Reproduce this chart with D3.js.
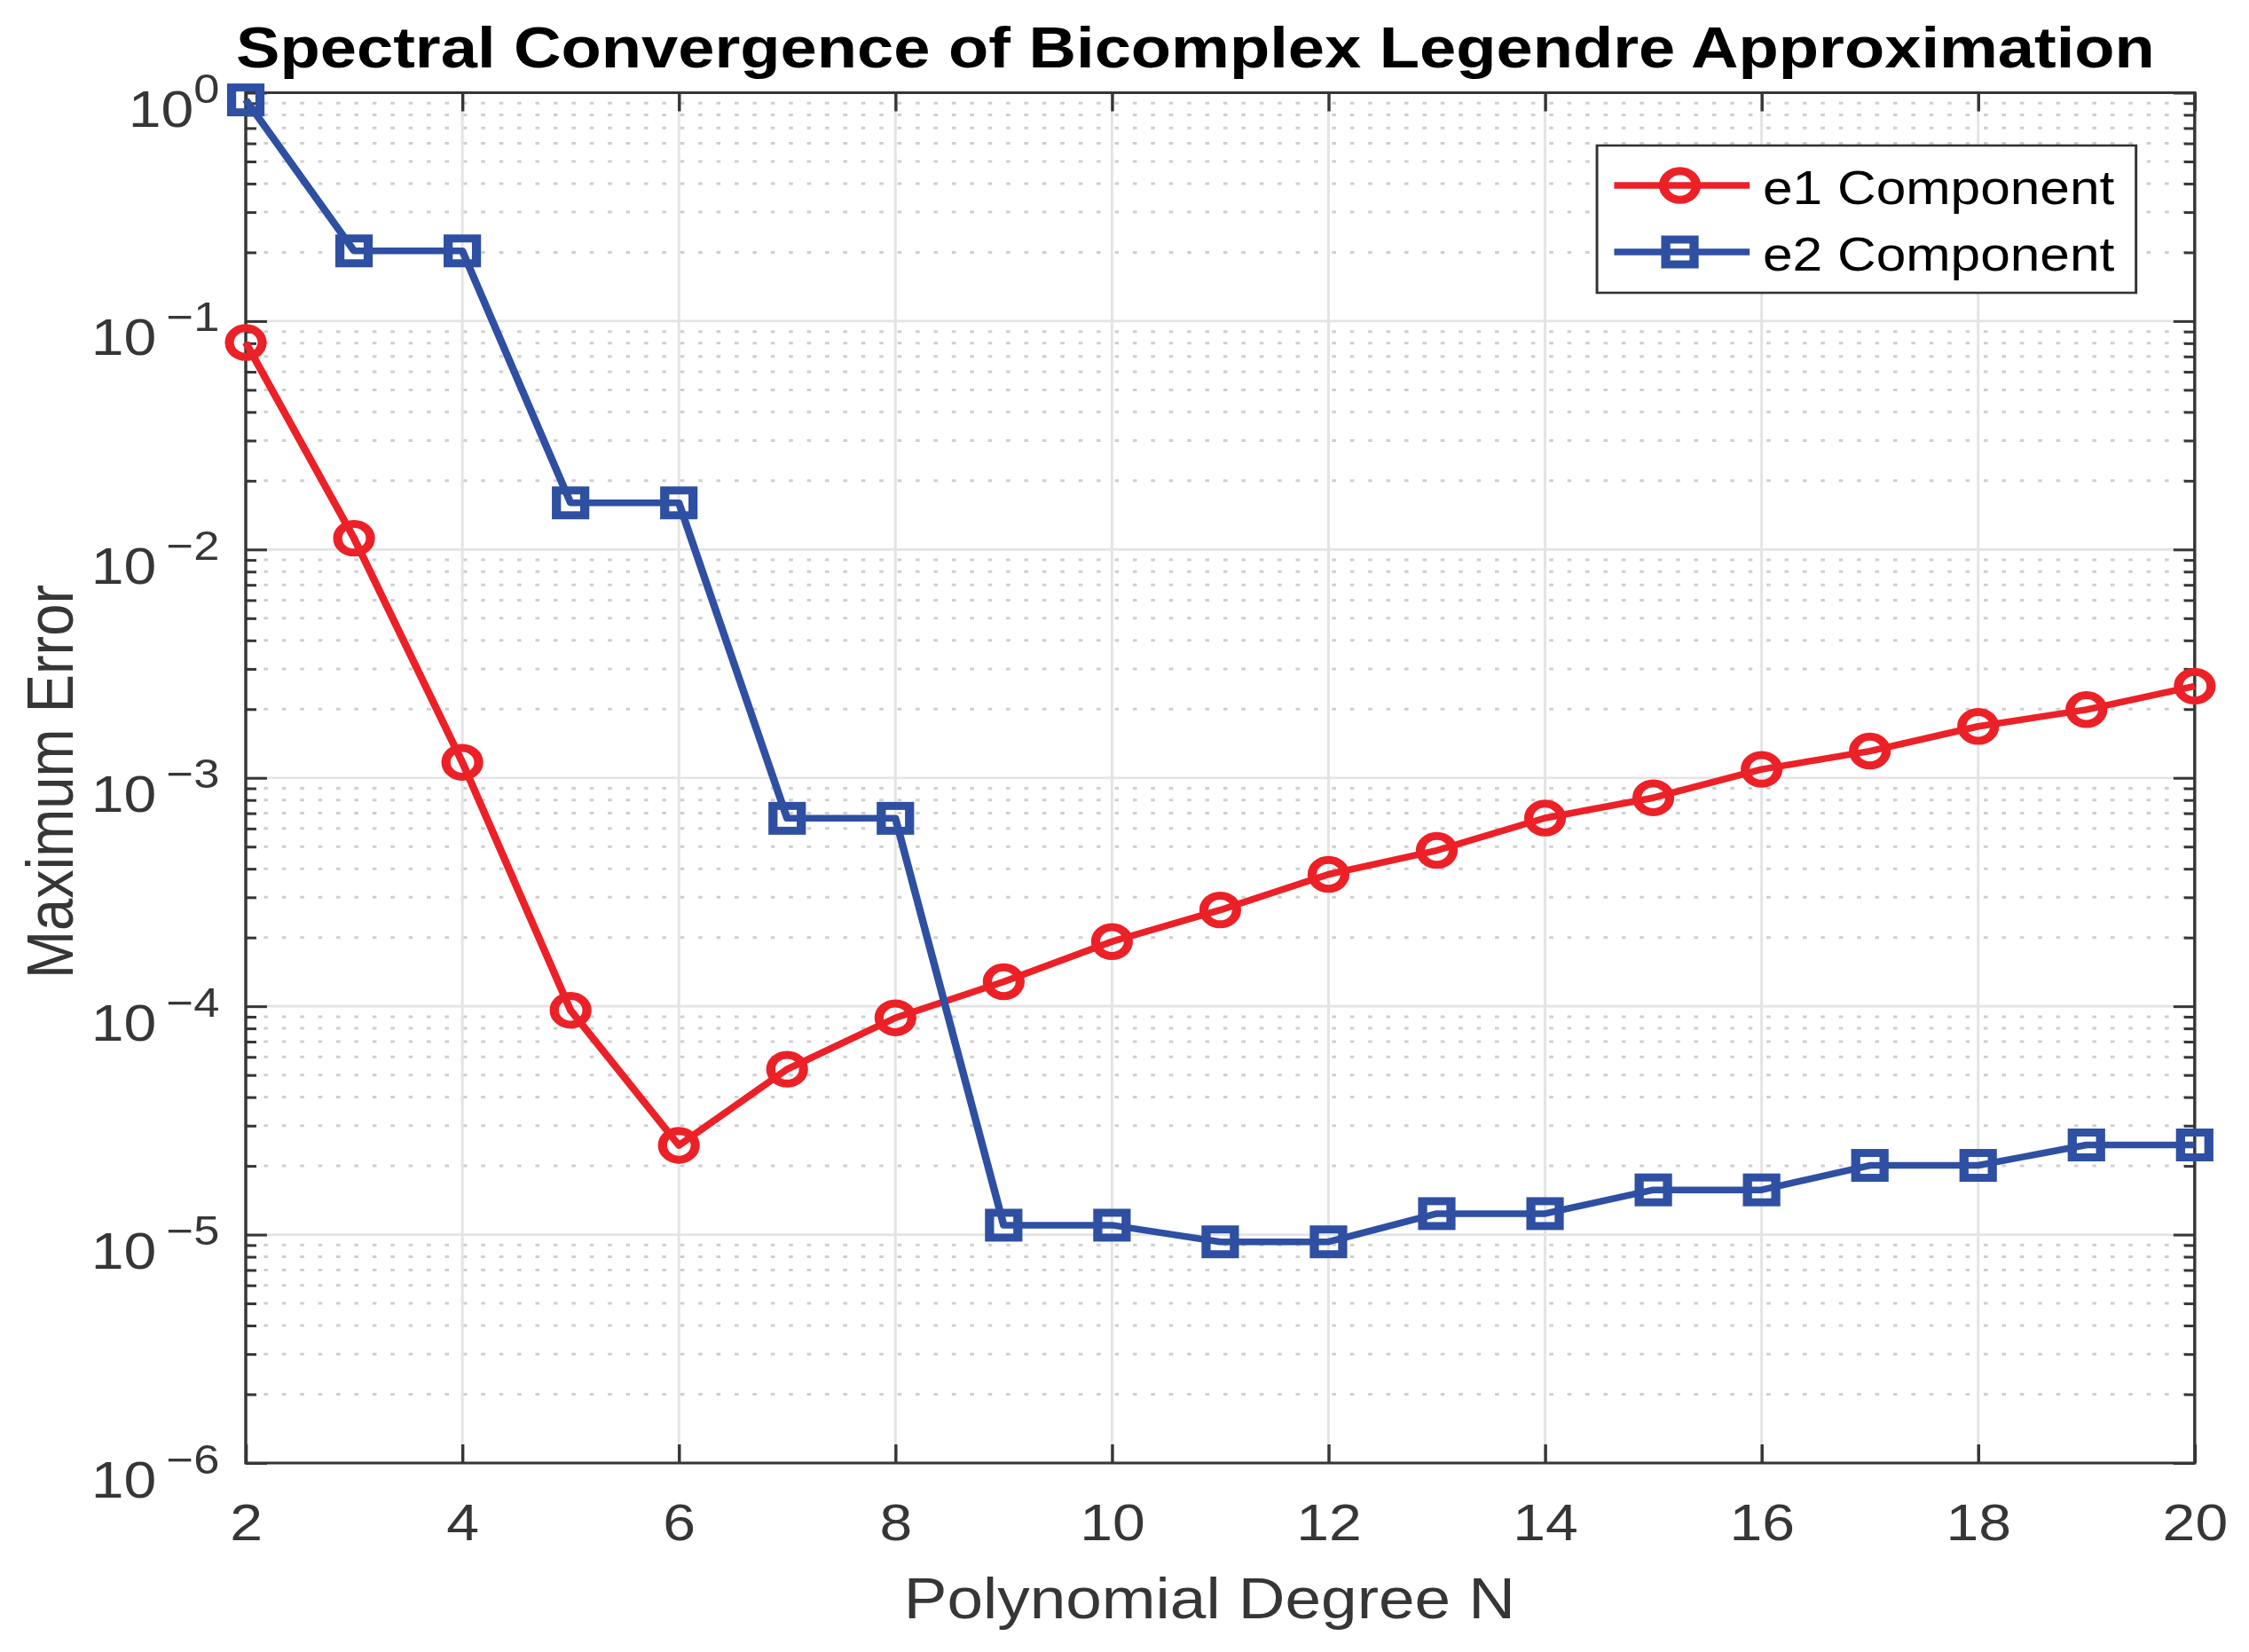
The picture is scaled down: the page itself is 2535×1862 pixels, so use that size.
<!DOCTYPE html>
<html>
<head>
<meta charset="utf-8">
<script src="https://cdn.jsdelivr.net/npm/d3@7/dist/d3.min.js"></script>
<style>
  html, body { margin: 0; padding: 0; background: #fff; }
  svg { display: block; }
  text { font-family: "Liberation Sans", Arial, Helvetica, sans-serif; }
</style>
</head>
<body>
<svg id="chart"></svg>
<script>
// data
var degrees = [2, 3, 4, 5, 6, 7, 8, 9, 10, 11, 12, 13, 14, 15, 16, 17, 18, 19, 20];
var e1Error = [0.0806, 0.0112, 1.17e-3, 9.6e-5, 2.46e-5, 5.3e-5, 8.9e-5, 1.28e-4, 1.92e-4,
               2.64e-4, 3.78e-4, 4.81e-4, 6.67e-4, 8.18e-4, 1.09e-3, 1.31e-3, 1.68e-3, 1.99e-3, 2.52e-3];
var e2Error = [0.93, 0.203, 0.203, 0.016, 0.016, 6.65e-4, 6.65e-4, 1.10e-5, 1.10e-5,
               9.3e-6, 9.3e-6, 1.236e-5, 1.236e-5, 1.57e-5, 1.57e-5, 2.01e-5, 2.01e-5, 2.47e-5, 2.47e-5];
var xTicks = [2, 4, 6, 8, 10, 12, 14, 16, 18, 20];
var yExponents = [0, -1, -2, -3, -4, -5, -6];
var minorSteps = [2, 3, 4, 5, 6, 7, 8, 9];
var seriesNames = ["e1 Component", "e2 Component"];

var chartTitle = "Spectral Convergence of Bicomplex Legendre Approximation";
var xTitle = "Polynomial Degree N";
var yTitle = "Maximum Error";

// the original figure is stretched sideways, so draw in a narrower box and stretch it
var stretch = 1.14;
var svgWidth = 2535;
var svgHeight = 1862;
var viewW = svgWidth / stretch;

var svg = d3.select("#chart")
            .attr("width", svgWidth)
            .attr("height", svgHeight)
            .attr("viewBox", "0 0 " + viewW + " " + svgHeight)
            .attr("preserveAspectRatio", "none");

// plot box (window.top is reserved, so use other names)
var plotL = 243, plotR = 2170, plotT = 104.5, plotB = 1649;
var axisColor = "#363636";
var red = "#ec2127", blue = "#2e4fa2";

var x = d3.scaleLinear().domain([2, 20]).range([plotL, plotR]);
var y = d3.scaleLog().domain([1e-6, 1]).range([plotB, plotT]);

var majorY = yExponents.map(function(e){ return Math.pow(10, e); });
var minorY = [];
for (var k = -6; k < 0; k++) {
  minorSteps.forEach(function(m){ minorY.push(m * Math.pow(10, k)); });
}

//grid
var grid = svg.append("g");
grid.selectAll(".minor").data(minorY).enter().append("line")
    .attr("x1", plotL).attr("x2", plotR)
    .attr("y1", function(d){ return y(d); })
    .attr("y2", function(d){ return y(d); })
    .attr("stroke", "#cfcfcf").attr("stroke-width", 3)
    .attr("stroke-dasharray", "4 13.9");
grid.selectAll(".hmaj").data(majorY).enter().append("line")
    .attr("x1", plotL).attr("x2", plotR)
    .attr("y1", function(d){ return y(d); })
    .attr("y2", function(d){ return y(d); })
    .attr("stroke", "#e4e4e4").attr("stroke-width", 2.6);
grid.selectAll(".vmaj").data(xTicks).enter().append("line")
    .attr("x1", function(d){ return x(d); })
    .attr("x2", function(d){ return x(d); })
    .attr("y1", plotT).attr("y2", plotB)
    .attr("stroke", "#e4e4e4").attr("stroke-width", 2.6);

//axes, ticks pointing inward
function styleAxis(g) {
  g.select(".domain").remove();
  g.selectAll(".tick line").attr("stroke", axisColor).attr("stroke-width", 3);
  g.selectAll(".tick text").attr("fill", axisColor);
}

var gBottom = svg.append("g").attr("transform", "translate(0," + plotB + ")")
   .call(d3.axisBottom(x).tickValues(xTicks).tickSize(-21).tickSizeOuter(0).tickFormat(d3.format("d")))
   .call(styleAxis);
gBottom.selectAll(".tick text")
   .attr("y", 87).attr("dy", null)
   .style("font-size", "58px");

svg.append("g").attr("transform", "translate(0," + plotT + ")")
   .call(d3.axisTop(x).tickValues(xTicks).tickSize(-21).tickSizeOuter(0).tickFormat(""))
   .call(styleAxis);

var gLeft = svg.append("g").attr("transform", "translate(" + plotL + ",0)")
   .call(d3.axisLeft(y).tickValues(majorY).tickSize(-21).tickSizeOuter(0))
   .call(styleAxis);
svg.append("g").attr("transform", "translate(" + plotL + ",0)")
   .call(d3.axisLeft(y).tickValues(minorY).tickSize(-10.5).tickSizeOuter(0).tickFormat(""))
   .call(styleAxis);
svg.append("g").attr("transform", "translate(" + plotR + ",0)")
   .call(d3.axisRight(y).tickValues(majorY).tickSize(-21).tickSizeOuter(0).tickFormat(""))
   .call(styleAxis);
svg.append("g").attr("transform", "translate(" + plotR + ",0)")
   .call(d3.axisRight(y).tickValues(minorY).tickSize(-10.5).tickSizeOuter(0).tickFormat(""))
   .call(styleAxis);

// 10^n labels with superscript
gLeft.selectAll(".tick text").each(function(d){
  var e = Math.round(Math.log10(d));
  var t = d3.select(this).text(null)
            .attr("x", 217 - plotL).attr("y", 38).attr("dy", null)
            .attr("text-anchor", "end")
            .style("font-size", "58px");
  t.append("tspan").text("10");
  t.append("tspan")
   .attr("dy", -27).attr("dx", e < 0 ? 10 : 0)
   .style("font-size", "46px")
   .text(e < 0 ? "\u2212" + (-e) : String(e));
});

// box
svg.append("rect")
   .attr("x", plotL).attr("y", plotT)
   .attr("width", plotR - plotL).attr("height", plotB - plotT)
   .attr("fill", "none").attr("stroke", axisColor).attr("stroke-width", 3);

//series
var series = [
  { name: seriesNames[0], values: e1Error, color: red, marker: "circle" },
  { name: seriesNames[1], values: e2Error, color: blue, marker: "square" }
];

var line = d3.line()
  .x(function(d){ return x(d[0]); })
  .y(function(d){ return y(d[1]); });

function drawMarker(g, type, color) {
  if (type === "circle") {
    g.append("circle").attr("r", 16.2)
     .attr("fill", "none").attr("stroke", color).attr("stroke-width", 9);
  } else {
    g.append("rect").attr("x", -14).attr("y", -14)
     .attr("width", 28).attr("height", 28)
     .attr("fill", "none").attr("stroke", color).attr("stroke-width", 9);
  }
}

series.forEach(function(s){
  var pts = degrees.map(function(n, i){ return [n, s.values[i]]; });
  svg.append("path")
     .attr("d", line(pts))
     .attr("fill", "none")
     .attr("stroke", s.color)
     .attr("stroke-width", 7.5)
     .attr("stroke-linejoin", "round");
  svg.append("g").selectAll("g").data(pts).enter().append("g")
     .attr("transform", function(d){ return "translate(" + x(d[0]) + "," + y(d[1]) + ")"; })
     .each(function(){ drawMarker(d3.select(this), s.marker, s.color); });
});

//titles
svg.append("text")
   .attr("x", 1182).attr("y", 76)
   .attr("text-anchor", "middle")
   .style("font-size", "65px").style("font-weight", "bold")
   .attr("fill", "#000")
   .text(chartTitle);

svg.append("text")
   .attr("x", 1196).attr("y", 1824)
   .attr("text-anchor", "middle")
   .style("font-size", "64px")
   .attr("fill", axisColor)
   .text(xTitle);

svg.append("text")
   .attr("transform", "translate(72,881) rotate(-90)")
   .attr("text-anchor", "middle")
   .style("font-size", "65px")
   .attr("fill", axisColor)
   .text(yTitle);

//legend
var legend = svg.append("g");
legend.append("rect")
   .attr("x", 1579).attr("y", 164)
   .attr("width", 533).attr("height", 166)
   .attr("fill", "#fff").attr("stroke", "#333").attr("stroke-width", 2.6);

var rowY = [209, 284];
series.forEach(function(s, i){
  var row = legend.append("g").attr("transform", "translate(0," + rowY[i] + ")");
  row.append("line")
     .attr("x1", 1596).attr("x2", 1730)
     .attr("stroke", s.color).attr("stroke-width", 7.5);
  var m = row.append("g").attr("transform", "translate(1661,0)");
  drawMarker(m, s.marker, s.color);
  row.append("text")
     .attr("x", 1743).attr("y", 21)
     .style("font-size", "53px")
     .attr("fill", "#000")
     .text(s.name);
});
</script>
</body>
</html>
